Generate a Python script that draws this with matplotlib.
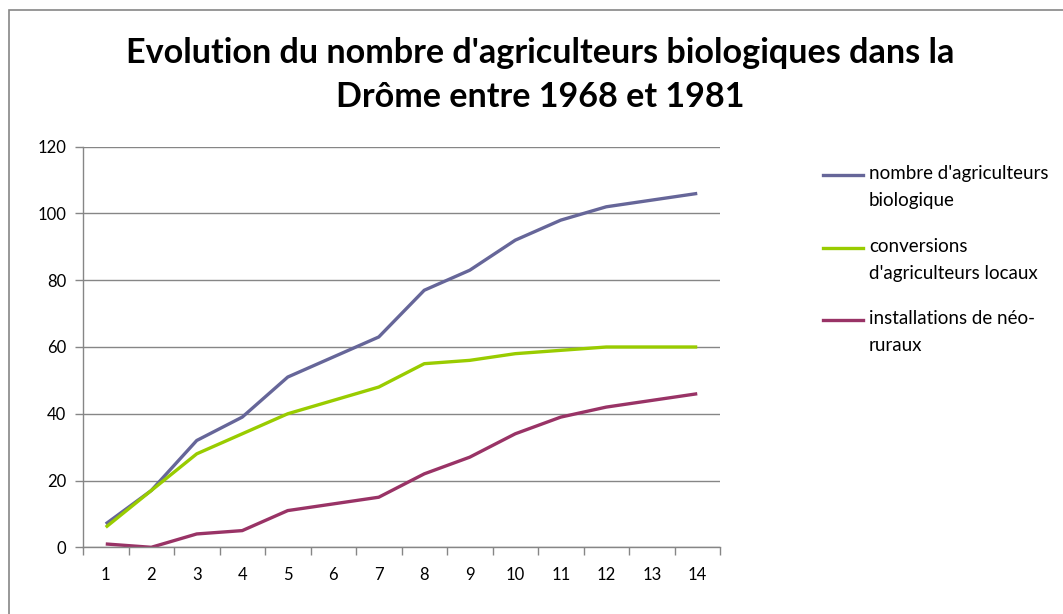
import matplotlib
matplotlib.use('Agg')
import matplotlib.pyplot as plt
from matplotlib.lines import Line2D
from matplotlib.patches import Rectangle

plt.rcParams['font.family'] = ['Lato', 'DejaVu Sans']

# categories 1..14 (years 1968-1981)
categories = list(range(1, 15))

# values
total_bio = [7, 17, 32, 39, 51, 57, 63, 77, 83, 92, 98, 102, 104, 106]
conversions = [6, 17, 28, 34, 40, 44, 48, 55, 56, 58, 59, 60, 60, 60]
neoruraux = [1, 0, 4, 5, 11, 13, 15, 22, 27, 34, 39, 42, 44, 46]

series_labels = ["nombre d'agriculteurs\nbiologique",
                 "conversions\nd'agriculteurs locaux",
                 "installations de néo-\nruraux"]
series_colors = ['#666699', '#99CC00', '#993366']

title = "Evolution du nombre d'agriculteurs biologiques dans la\nDrôme entre 1968 et 1981"

grey = '#868686'

fig = plt.figure(figsize=(10.63, 6.14), dpi=100)

# outer chart border
fig.add_artist(Rectangle((9 / 1063, -0.1), 1.2, 1.1 - 10 / 614,
                         transform=fig.transFigure, fill=False,
                         edgecolor=grey, linewidth=1.2))

ax = fig.add_axes([83 / 1063, 1 - 547.3 / 614, 637 / 1063, 400.6 / 614])

for vals, col in zip([total_bio, conversions, neoruraux], series_colors):
  ax.plot(categories, vals, color=col, linewidth=2.4, solid_capstyle='butt')

ax.set_xlim(0.5, 14.5)
ax.set_ylim(0, 120)
ax.set_yticks(range(0, 121, 20))
ax.set_xticks(categories)
ax.set_xticks([c - 0.5 for c in categories] + [14.5], minor=True)
ax.tick_params(axis='x', which='major', length=0, pad=14, labelsize=12)
ax.tick_params(axis='x', which='minor', length=6, color=grey, width=1)
ax.tick_params(axis='y', length=6, color=grey, width=1, pad=6, labelsize=12)

ax.grid(axis='y', color=grey, linewidth=1)
ax.set_axisbelow(True)
for side in ['top', 'right']:
  ax.spines[side].set_visible(False)
for side in ['left', 'bottom']:
  ax.spines[side].set_color(grey)
  ax.spines[side].set_linewidth(1)

fig.text(540 / 1063, 1 - 75 / 614, title, ha='center', va='center',
         fontsize=24.6, fontweight='bold', linespacing=1.45)

# legend, key aligned with first text line
legend_y = [175, 248, 320]
for lab, col, ypix in zip(series_labels, series_colors, legend_y):
  yf = 1 - ypix / 614
  fig.add_artist(Line2D([823 / 1063, 863 / 1063], [yf, yf],
                        transform=fig.transFigure, color=col, linewidth=2.4))
  fig.text(869 / 1063, yf + 10 / 614, lab, ha='left', va='top',
           fontsize=13.5, linespacing=1.7)

fig.savefig('out.png', dpi=100)
